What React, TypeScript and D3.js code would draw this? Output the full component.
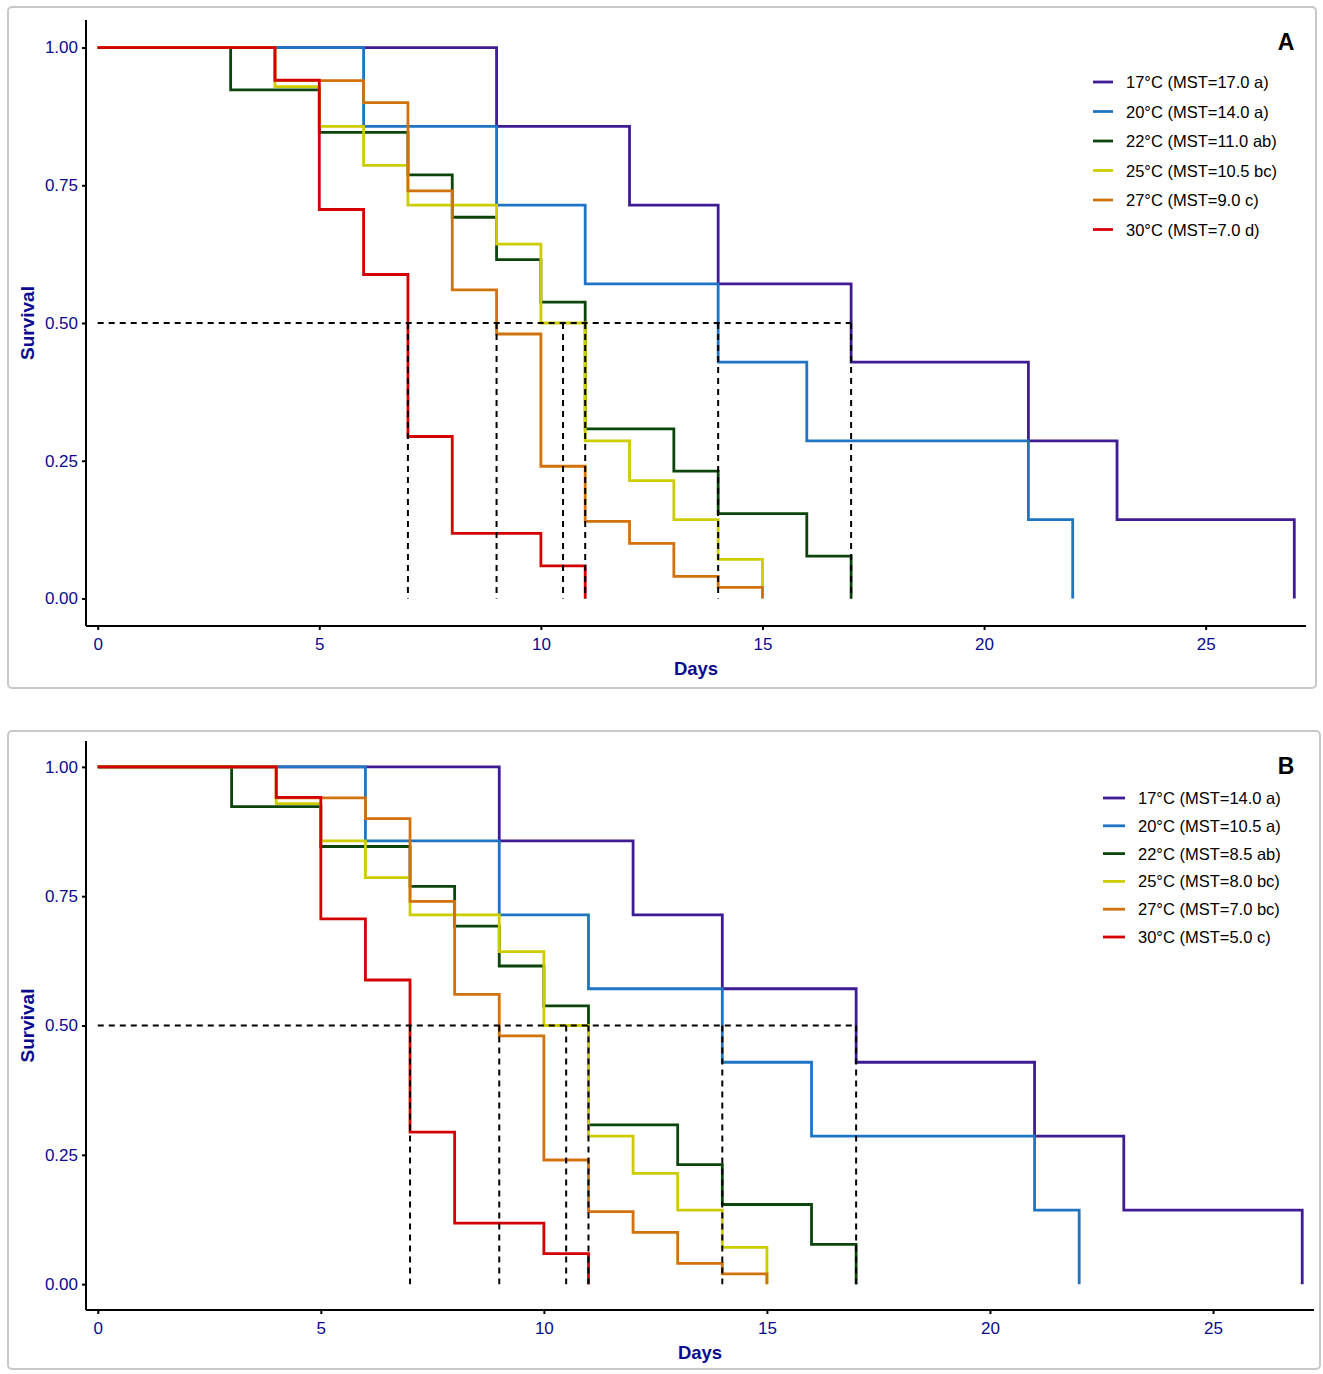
import React, { useEffect, useRef } from 'react';
import * as d3 from 'd3';

// Kaplan-Meier step curves (time of each step, survival after it)
const times17 = [0, 9, 12, 14, 17, 21, 23, 27];
const surv17 = [1, 0.857, 0.714, 0.571, 0.429, 0.286, 0.143, 0];
const times20 = [0, 6, 9, 11, 14, 16, 21, 22];
const surv20 = [1, 0.857, 0.714, 0.571, 0.429, 0.286, 0.143, 0];
const times22 = [0, 3, 5, 7, 8, 9, 10, 11, 13, 14, 16, 17];
const surv22 = [1, 0.923, 0.846, 0.769, 0.692, 0.615, 0.538, 0.308, 0.231, 0.154, 0.077, 0];
const times25 = [0, 4, 5, 6, 7, 9, 10, 11, 12, 13, 14, 15];
const surv25 = [1, 0.929, 0.857, 0.786, 0.714, 0.643, 0.5, 0.286, 0.214, 0.143, 0.071, 0];
const times27 = [0, 4, 6, 7, 8, 9, 10, 11, 12, 13, 14, 15];
const surv27 = [1, 0.94, 0.9, 0.74, 0.56, 0.48, 0.24, 0.14, 0.1, 0.04, 0.02, 0];
const times30 = [0, 4, 5, 6, 7, 8, 10, 11];
const surv30 = [1, 0.941, 0.706, 0.588, 0.294, 0.118, 0.059, 0];

const seriesTimes = [times17, times20, times22, times25, times27, times30];
const seriesSurv = [surv17, surv20, surv22, surv25, surv27, surv30];
const colors = ['#3f1c94', '#1f74c4', '#0b450b', '#cccc00', '#d2720c', '#d40000'];

const legendA = [
  '17°C (MST=17.0 a)',
  '20°C (MST=14.0 a)',
  '22°C (MST=11.0 ab)',
  '25°C (MST=10.5 bc)',
  '27°C (MST=9.0 c)',
  '30°C (MST=7.0 d)',
];
const legendB = [
  '17°C (MST=14.0 a)',
  '20°C (MST=10.5 a)',
  '22°C (MST=8.5 ab)',
  '25°C (MST=8.0 bc)',
  '27°C (MST=7.0 bc)',
  '30°C (MST=5.0 c)',
];

const medianTimes = [7, 9, 10.5, 11, 14, 17];
const xTicks = [0, 5, 10, 15, 20, 25];
const yTicks = [0, 0.25, 0.5, 0.75, 1];

const navy = '#0a0a8c';
const font = '"Liberation Sans", Arial, sans-serif';

interface PanelCfg {
  letter: string;
  legend: string[];
  box: [number, number, number, number];
  xRange: [number, number];
  yRange: [number, number];
  legendX: number;
  legendY: number;
  legendStep: number;
  lineLen: number;
}

const panels: PanelCfg[] = [
  {
    letter: 'A', legend: legendA, box: [8, 7, 1308, 681],
    xRange: [86, 1306], yRange: [626, 20],
    legendX: 1093, legendY: 82, legendStep: 29.5, lineLen: 20,
  },
  {
    letter: 'B', legend: legendB, box: [8, 731, 1312, 638],
    xRange: [86, 1314], yRange: [1310, 741],
    legendX: 1103, legendY: 798, legendStep: 27.8, lineLen: 22,
  },
];

const App: React.FC = () => {
  const ref = useRef<SVGSVGElement>(null);

  useEffect(() => {
    const svg = d3.select(ref.current);
    svg.selectAll('*').remove();

    panels.forEach((p) => {
      const g = svg.append('g');
      const [bx, by, bw, bh] = p.box;
      g.append('rect')
        .attr('x', bx).attr('y', by).attr('width', bw).attr('height', bh)
        .attr('rx', 4).attr('fill', '#fff').attr('stroke', '#c8c8c8').attr('stroke-width', 2);

      const x = d3.scaleLinear().domain([-0.264, 27.264]).range(p.xRange);
      const y = d3.scaleLinear().domain([-0.05, 1.05]).range(p.yRange);

      const line = d3.line<[number, number]>()
        .x((d) => x(d[0]))
        .y((d) => y(d[1]))
        .curve(d3.curveStepAfter);

      seriesTimes.forEach((ts, i) => {
        const pts: [number, number][] = ts.map((t, j) => [t, seriesSurv[i][j]]);
        g.append('path')
          .attr('d', line(pts))
          .attr('fill', 'none')
          .attr('stroke', colors[i])
          .attr('stroke-width', 2.8);
      });

      // median lines
      g.append('line')
        .attr('x1', x(0)).attr('x2', x(d3.max(medianTimes) as number))
        .attr('y1', y(0.5)).attr('y2', y(0.5))
        .attr('stroke', '#000').attr('stroke-width', 2).attr('stroke-dasharray', '6,5');
      medianTimes.forEach((m) => {
        g.append('line')
          .attr('x1', x(m)).attr('x2', x(m))
          .attr('y1', y(0.5)).attr('y2', y(0))
          .attr('stroke', '#000').attr('stroke-width', 2).attr('stroke-dasharray', '6,5');
      });

      // axes
      const xAxis = g.append('g')
        .attr('transform', `translate(0,${p.yRange[0]})`)
        .call(d3.axisBottom(x).tickValues(xTicks).tickSize(4).tickPadding(8).tickFormat(d3.format('d')));
      const yAxis = g.append('g')
        .attr('transform', `translate(${p.xRange[0]},0)`)
        .call(d3.axisLeft(y).tickValues(yTicks).tickSize(4).tickPadding(4).tickFormat(d3.format('.2f')));
      [xAxis, yAxis].forEach((a) => {
        a.attr('font-size', null).attr('font-family', null);
        a.select('.domain').attr('stroke', '#000').attr('stroke-width', 2)
          .attr('d', (a === xAxis)
            ? `M${p.xRange[0]},0H${p.xRange[1]}`
            : `M0,${p.yRange[0]}V${p.yRange[1]}`);
        a.selectAll('.tick line').attr('stroke', '#000').attr('stroke-width', 2);
        a.selectAll('.tick text').attr('fill', navy).style('font-family', font).style('font-size', '17px');
      });

      const midY = (p.yRange[0] + p.yRange[1]) / 2;
      g.append('text')
        .attr('transform', `translate(27,${midY}) rotate(-90)`)
        .attr('text-anchor', 'middle').attr('dominant-baseline', 'central')
        .attr('fill', navy).style('font-family', font).style('font-size', '19px').style('font-weight', 'bold')
        .text('Survival');
      g.append('text')
        .attr('x', (p.xRange[0] + p.xRange[1]) / 2)
        .attr('y', p.yRange[0] + 42)
        .attr('text-anchor', 'middle').attr('dominant-baseline', 'central')
        .attr('fill', navy).style('font-family', font).style('font-size', '18.5px').style('font-weight', 'bold')
        .text('Days');

      g.append('text')
        .attr('x', 1286).attr('y', by + 35)
        .attr('text-anchor', 'middle').attr('dominant-baseline', 'central')
        .attr('fill', '#000').style('font-family', font).style('font-size', '23px').style('font-weight', 'bold')
        .text(p.letter);

      p.legend.forEach((lab, i) => {
        const ly = p.legendY + i * p.legendStep;
        g.append('line')
          .attr('x1', p.legendX).attr('x2', p.legendX + p.lineLen)
          .attr('y1', ly).attr('y2', ly)
          .attr('stroke', colors[i]).attr('stroke-width', 2.8);
        g.append('text')
          .attr('x', p.legendX + p.lineLen + 13).attr('y', ly)
          .attr('dominant-baseline', 'central')
          .attr('fill', '#000').style('font-family', font).style('font-size', '16.5px')
          .text(lab);
      });
    });
  }, []);

  return (
    <svg
      ref={ref}
      width={1323}
      height={1374}
      style={{ position: 'absolute', left: 0, top: 0, background: '#fff' }}
    />
  );
};

export default App;
